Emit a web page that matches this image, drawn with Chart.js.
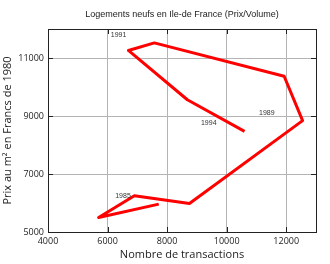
<!DOCTYPE html>
<html>
<head>
<meta charset="utf-8">
<script src="https://cdn.jsdelivr.net/npm/chart.js@4/dist/chart.umd.min.js"></script>
<style>
  html, body { margin: 0; padding: 0; background: #fff; }
</style>
</head>
<body>
<canvas id="myChart" width="330" height="264"></canvas>
<script>
// one point per year, transactions vs price per m2
var years = [1985, 1986, 1987, 1988, 1989, 1990, 1991, 1992, 1993, 1994];
var transactions = [7720, 5700, 6900, 8750, 12550, 11930, 7570, 6700, 8680, 10600];
var prices = [5960, 5500, 6250, 5980, 8840, 10370, 11520, 11260, 9560, 8470];
var labelledYears = [1985, 1989, 1991, 1994];
var xTicks = [4000, 6000, 8000, 10000, 12000];
var yTicks = [5000, 7000, 9000, 11000];

var points = years.map(function (y, i) {
    return { x: transactions[i], y: prices[i] };
});

// frame on all four sides with small inward ticks
var framePlugin = {
    id: 'frame',
    afterDraw: function (chart) {
        var c = chart.ctx, a = chart.chartArea;
        var xs = chart.scales.x, ys = chart.scales.y;
        c.save();
        c.strokeStyle = '#222';
        c.lineWidth = 1;
        c.beginPath();
        xTicks.forEach(function (v) {
            var px = Math.round(xs.getPixelForValue(v)) + 0.5;
            c.moveTo(px, a.bottom); c.lineTo(px, a.bottom - 5);
            c.moveTo(px, a.top); c.lineTo(px, a.top + 5);
        });
        yTicks.forEach(function (v) {
            var py = Math.round(ys.getPixelForValue(v)) + 0.5;
            c.moveTo(a.left, py); c.lineTo(a.left + 5, py);
            c.moveTo(a.right, py); c.lineTo(a.right - 5, py);
        });
        c.stroke();
        c.strokeRect(Math.round(a.left) + 0.5, Math.round(a.top) + 0.5,
            Math.round(a.right - a.left), Math.round(a.bottom - a.top));
        c.restore();
    }
};

// year labels up-left of their points
var yearPlugin = {
    id: 'years',
    afterDatasetsDraw: function (chart) {
        var c = chart.ctx;
        var meta = chart.getDatasetMeta(0);
        c.save();
        c.font = '7px "Liberation Sans"';
        c.fillStyle = '#333';
        c.textAlign = 'right';
        c.textBaseline = 'middle';
        years.forEach(function (yr, i) {
            if (labelledYears.indexOf(yr) < 0) return;
            var p = meta.data[i];
            c.fillText(String(yr), p.x - 28, p.y - 8);
        });
        c.restore();
    }
};

var ctx = document.getElementById("myChart").getContext('2d');
var myChart = new Chart(ctx, {
    type: 'scatter',
    data: {
        datasets: [{
            data: points,
            showLine: true,
            borderColor: '#ff0000',
            borderWidth: 3,
            borderJoinStyle: 'round',
            pointRadius: 0,
            tension: 0
        }]
    },
    options: {
        responsive: false,
        maintainAspectRatio: false,
        animation: false,
        layout: { padding: { top: 0, right: 14, bottom: 0, left: 0 } },
        plugins: {
            legend: { display: false },
            tooltip: { enabled: false },
            title: {
                display: true,
                fullSize: false,
                text: 'Logements neufs en Ile-de France (Prix/Volume)',
                color: '#222',
                font: { family: '"Liberation Sans"', size: 9, weight: 'normal' },
                padding: { top: 9.6, bottom: 8.6 }
            }
        },
        scales: {
            x: {
                type: 'linear',
                min: 4000,
                max: 13000,
                afterBuildTicks: function (s) { s.ticks = xTicks.map(function (v) { return { value: v }; }); },
                afterFit: function (s) { s.height = 32; },
                ticks: {
                    color: '#222',
                    font: { family: '"Open Sans"', size: 9 },
                    padding: 4,
                    maxRotation: 0,
                    callback: function (v) { return String(v); }
                },
                grid: { color: '#b4b4b4', drawTicks: false },
                border: { color: '#000', width: 1 },
                title: {
                    display: true,
                    text: 'Nombre de transactions',
                    color: '#222',
                    font: { family: '"Open Sans"', size: 11 },
                    padding: { top: 0, bottom: 2.4 }
                }
            },
            y: {
                type: 'linear',
                min: 5000,
                max: 12000,
                afterBuildTicks: function (s) { s.ticks = yTicks.map(function (v) { return { value: v }; }); },
                afterFit: function (s) { s.width = 48; },
                ticks: {
                    color: '#222',
                    font: { family: '"Open Sans"', size: 9 },
                    padding: 4,
                    callback: function (v) { return String(v); }
                },
                grid: { color: '#b4b4b4', drawTicks: false },
                border: { color: '#000', width: 1 },
                title: {
                    display: true,
                    text: 'Prix au m² en Francs de 1980',
                    color: '#222',
                    font: { family: '"Open Sans"', size: 11 },
                    padding: { top: 1.4, bottom: 0 }
                }
            }
        }
    },
    plugins: [framePlugin, yearPlugin]
});
</script>
</body>
</html>
